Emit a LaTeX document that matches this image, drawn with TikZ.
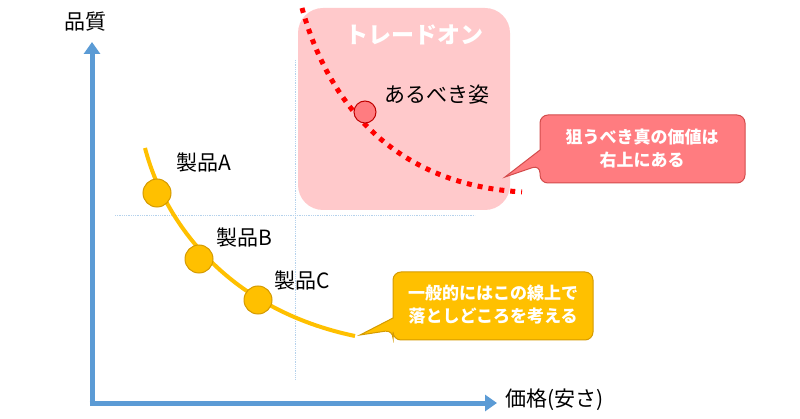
\documentclass[tikz,border=0pt]{standalone}
\usepackage{fontspec}
\setmainfont{Noto Sans CJK JP}
\usetikzlibrary{arrows.meta}
\definecolor{axblue}{HTML}{5B9BD5}
\definecolor{pinkbg}{HTML}{FFC9CB}
\definecolor{redc}{HTML}{FF7C80}
\definecolor{redd}{HTML}{C00000}
\definecolor{yel}{HTML}{FFC000}
\definecolor{yeld}{HTML}{D49A00}
\tikzset{
 axis/.style={draw=axblue,line width=5pt,-{Triangle[length=12pt,width=16pt]}},
 guide/.style={draw=axblue!45,densely dotted,line width=0.8pt},
 lab/.style={font=\fontsize{21}{23}\selectfont,inner sep=0pt},
 prod/.style={circle,fill=yel,draw=yeld,line width=1pt,minimum size=28pt,inner sep=0pt},
 callout/.style={font=\bfseries\fontsize{17}{23}\selectfont,text=white,align=center,inner sep=0pt}
}
\begin{document}
\begin{tikzpicture}[x=1pt,y=-1pt]
\useasboundingbox (0,0) rectangle (800,419);
% guides
\draw[guide] (115,215) -- (475,215);
\draw[guide] (295,60) -- (295,380);
% pink area
\fill[pinkbg,rounded corners=25pt] (298,8) rectangle (510,210);
\node[font=\bfseries\fontsize{23}{26}\selectfont,text=white] (to) at (414,35) {トレードオン};
% ideal curve
\draw[red,line width=5pt,dash pattern=on 5pt off 6pt] (302,8) .. controls (330,110) and (400,185) .. (522,192);
\node[circle,fill=redc,draw=redd,line width=1pt,minimum size=22pt,inner sep=0pt] (ideal) at (365,112) {};
\node[lab,anchor=west] (idl) at (384,95) {あるべき姿};
% red callout
\coordinate (rtip) at (505,177);
\filldraw[fill=redc,draw=redd!70,line width=1pt,rounded corners=8pt] (540,115) -- (745,115) -- (745,183) -- (540,183) -- (540,165) [sharp corners] -- (rtip) -- (540,150) [rounded corners=8pt] -- cycle;
\node[callout] (rtext) at (642,149) {狙うべき真の価値は\\右上にある};
% yellow curve
\draw[yel,line width=4pt] (145,148) .. controls (165,225) and (230,310) .. (355,336);
\node[prod] (pa) at (157,193) {};
\node[prod] (pb) at (199,259) {};
\node[prod] (pc) at (258,300) {};
\node[lab,anchor=west] (la) at (176,163) {製品A};
\node[lab,anchor=west] (lb) at (216,238) {製品B};
\node[lab,anchor=west] (lc) at (274,281) {製品C};
% yellow callout
\coordinate (ytip) at (360,335);
\filldraw[fill=yel,draw=yeld,line width=1pt,rounded corners=8pt] (393,272) -- (593,272) -- (593,340) -- (393,340) -- (393,330) [sharp corners] -- (ytip) -- (393,318) [rounded corners=8pt] -- cycle;
\node[callout] (ytext) at (493,305) {一般的にはこの線上で\\落としどころを考える};
% axes
\coordinate (o) at (92,403);
\coordinate (yt) at (92,42);
\coordinate (xt) at (497,403);
\draw[axis] (o) -- (yt);
\draw[axis] ([xshift=-2.5pt]o) -- (xt);
\node[lab] (ql) at (85,22) {品質};
\node[lab,anchor=west] (pl) at (505,400) {価格(安さ)};
\end{tikzpicture}
\end{document}
